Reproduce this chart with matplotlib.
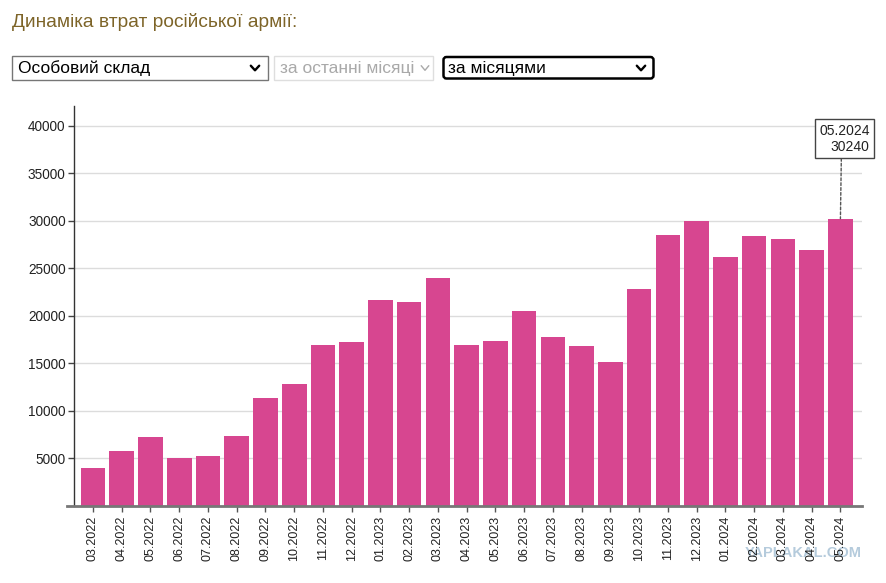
import numpy as np
import matplotlib
matplotlib.use('Agg')
import matplotlib.pyplot as plt
from matplotlib.patches import Rectangle, FancyBboxPatch

plt.rcParams.update({'font.family': ['Liberation Sans', 'DejaVu Sans'], 'figure.facecolor': 'white'})

months = ['03.2022', '04.2022', '05.2022', '06.2022', '07.2022', '08.2022', '09.2022',
          '10.2022', '11.2022', '12.2022', '01.2023', '02.2023', '03.2023', '04.2023',
          '05.2023', '06.2023', '07.2023', '08.2023', '09.2023', '10.2023', '11.2023',
          '12.2023', '01.2024', '02.2024', '03.2024', '04.2024', '05.2024']
losses = [3990, 5810, 7250, 5000, 5280, 7390, 11350, 12890, 16960, 17240, 21690, 21450,
          24040, 16960, 17380, 20540, 17770, 16860, 15140, 22880, 28530, 30000, 26190,
          28400, 28140, 26950, 30240]
yticks = [5000, 10000, 15000, 20000, 25000, 30000, 35000, 40000]

title = 'Динаміка втрат російської армії:'
select_main = 'Особовий склад'
select_period = 'за останні місяці'
select_group = 'за місяцями'

W, H = 886, 583
fig = plt.figure(figsize=(W / 100, H / 100), dpi=100)

# page header, drawn in pixel coords
ui = fig.add_axes([0, 0, 1, 1])
ui.set_xlim(0, W); ui.set_ylim(H, 0); ui.axis('off')
ui.text(12, 22, title, fontsize=13.8, color='#7d6428', va='center', ha='left')

def chevron(x, y, c, lw, s=4.2):
    ui.plot([x - s, x, x + s], [y - 2.3, y + 2.3, y - 2.3], color=c, lw=lw,
            solid_capstyle='round', solid_joinstyle='round')

ui.add_patch(Rectangle((12.5, 56), 255.5, 23.5, fill=False, ec='#767676', lw=1))
ui.text(18, 68, select_main, fontsize=12.5, color='black', va='center')
chevron(255, 68, 'black', 1.7)
ui.add_patch(Rectangle((274, 56), 159, 23.5, fill=False, ec='#dedede', lw=1))
ui.text(280, 68, select_period, fontsize=12.5, color='#a9a9a9', va='center')
chevron(425, 68, '#a9a9a9', 1.0, 3.8)
ui.add_patch(FancyBboxPatch((443.5, 57), 210, 21.5, boxstyle='round,pad=0,rounding_size=3',
                            fill=False, ec='black', lw=1.8))
ui.text(448, 68, select_group, fontsize=12.5, color='black', va='center')
chevron(641, 68, 'black', 1.7)
ui.text(862, 553, 'YAPLAKAL.COM', fontsize=10.5, fontweight='bold', color='#a8c2d6',
        alpha=0.85, ha='right', va='center', zorder=5)

# chart
ax = fig.add_axes([74 / W, 77 / H, (861.7 - 74) / W, 400 / H])
x = np.arange(len(months))
ax.bar(x, losses, width=0.855, color='#d74690', zorder=2)
ax.set_xlim(-0.66, 26.74)
ax.set_ylim(0, 42100)
ax.set_yticks(yticks)
ax.set_yticklabels([str(v) for v in yticks], fontsize=9.8, color='#222')
ax.set_xticks(x)
ax.set_xticklabels(months, rotation=90, fontsize=9.0, color='#222')
ax.grid(axis='y', color='#dcdcdc', lw=1, zorder=0)
ax.tick_params(axis='y', length=4.5, width=1, color='#444', pad=1.5)
ax.tick_params(axis='x', length=4.5, width=1, color='#555', pad=2.5)
for s in ('top', 'right', 'bottom'):
    ax.spines[s].set_visible(False)
ax.spines['left'].set_color('#333')
ax.spines['left'].set_linewidth(1)
ax.plot([-0.009, 1], [0, 0], transform=ax.transAxes, color='#777', lw=2, clip_on=False, zorder=3)

ax.annotate(f'{months[-1]}\n{losses[-1]}', xy=(x[-1], losses[-1]), xytext=(4, 80),
            textcoords='offset pixels', ha='center', va='center', multialignment='right',
            fontsize=10, color='#222',
            bbox=dict(boxstyle='square,pad=0.3', fc='white', ec='#444', lw=1),
            arrowprops=dict(arrowstyle='-', linestyle=(0, (2, 1.5)), color='#555', lw=1,
                            shrinkA=0, shrinkB=0, relpos=(0.44, 0)))

fig.savefig('out.png', dpi=100)
